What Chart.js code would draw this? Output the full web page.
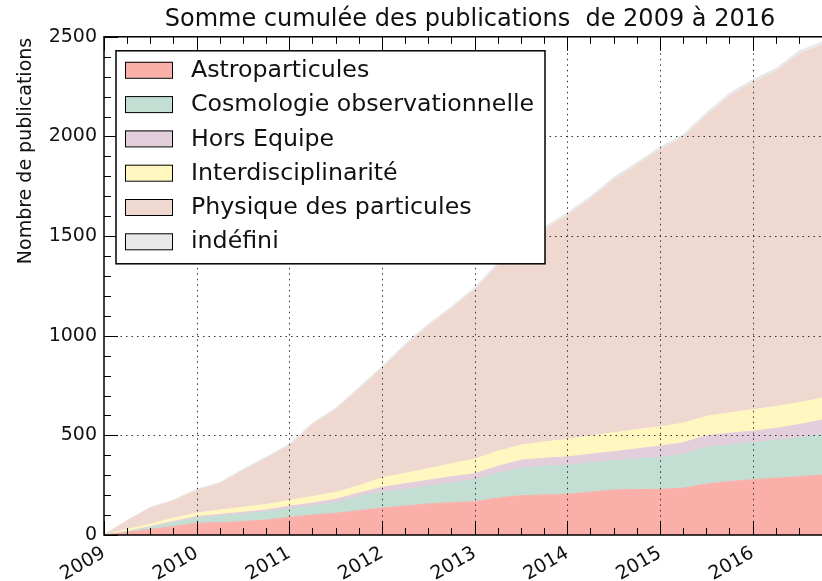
<!DOCTYPE html>
<html><head><meta charset="utf-8">
<script src="https://cdn.jsdelivr.net/npm/chart.js@4.4.1/dist/chart.umd.min.js"></script>
<style>html,body{margin:0;padding:0;background:#fff;overflow:hidden;} #wrap{width:840px;height:581px;}</style>
</head><body><div id="wrap"><canvas id="c" width="840" height="581"></canvas></div>
<script>
// Time points (decimal years, quarterly)
const periods = [2009.00,2009.25,2009.50,2009.75,2010.00,2010.25,2010.50,2010.75,2011.00,2011.25,2011.50,2011.75,
  2012.00,2012.25,2012.50,2012.75,2013.00,2013.25,2013.50,2013.75,2014.00,2014.25,2014.50,2014.75,
  2015.00,2015.25,2015.50,2015.75,2016.00,2016.25,2016.50,2016.75,2016.90];
// Cumulative publications per team
const astroparticules = [0,13,28,42,59,62,67,75,89,100,109,122,135,145,156,162,167,185,197,201,204,215,226,228,229,235,255,268,277,285,292,301,306];
const cosmologie = [0,3,10,20,25,33,38,42,42,46,54,71,80,85,90,100,109,125,138,144,147,147,147,154,161,170,185,185,186,190,196,201,202];
const horsEquipe = [0,2,4,6,8,8,9,9,13,14,16,17,24,27,29,30,31,35,40,40,41,43,45,50,56,58,58,58,58,60,66,75,77];
const interdisciplinarite = [0,10,12,17,18,22,25,27,30,33,35,37,48,53,58,66,74,75,76,82,88,92,95,97,97,98,98,102,108,110,110,110,111];
const physique = [0,43,81,86,113,132,183,230,273,360,413,482,548,637,713,776,848,932,980,1064,1122,1188,1267,1325,1389,1433,1507,1587,1640,1679,1748,1769,1778];
const indefini = [0,2,4,5,6,7,8,8,9,9,10,10,11,11,12,12,12,13,13,13,14,14,14,15,15,15,16,16,16,16,17,17,17];

const seriesNames = ['Astroparticules','Cosmologie observationnelle','Hors Equipe','Interdisciplinarité','Physique des particules','indéfini'];
const seriesValues = [astroparticules, cosmologie, horsEquipe, interdisciplinarite, physique, indefini];
const seriesColors = ['#fab0a9','#c3ded2','#e3cedb','#fff6c0','#efd8d0','#e8e8e8'];
const yTicks = [0,500,1000,1500,2000,2500];

const FONT = 'DejaVu Sans';

const datasets = seriesNames.map((name,i)=>({
  label: name,
  data: periods.map((p,j)=>({x:p, y:seriesValues[i][j]})),
  backgroundColor: seriesColors[i],
  borderColor: seriesColors[i],
  borderWidth: 1,
  pointRadius: 0,
  tension: 0,
  fill: i===0 ? 'origin' : '-1'
}));

const decor = {
  id:'decor',
  afterDatasetsDraw(chart){
    const ctx = chart.ctx, a = chart.chartArea;
    const xs = chart.scales.x, ys = chart.scales.y;
    ctx.save();
    // dotted grid
    ctx.strokeStyle = '#333'; ctx.lineWidth = 1; ctx.setLineDash([1.5,4]);
    xs.ticks.forEach(t=>{ const px = Math.round(xs.getPixelForValue(t.value))+0.5;
      if (px<=a.left+1||px>=a.right-1) return;
      ctx.beginPath(); ctx.moveTo(px,a.top); ctx.lineTo(px,a.bottom); ctx.stroke(); });
    ys.ticks.forEach(t=>{ const py = Math.round(ys.getPixelForValue(t.value))+0.5;
      if (py<=a.top+1||py>=a.bottom-1) return;
      ctx.beginPath(); ctx.moveTo(a.left,py); ctx.lineTo(a.right,py); ctx.stroke(); });
    ctx.setLineDash([]);
    // ticks (inward, major + minor)
    ctx.strokeStyle = '#000'; ctx.lineWidth = 1;
    for (let v = xs.min; v <= xs.max + 1e-6; v += 0.25) {
      const major = Math.abs(v - Math.round(v)) < 1e-6;
      const L = major ? 14 : 7;
      const px = Math.round(xs.getPixelForValue(v))+0.5;
      ctx.beginPath(); ctx.moveTo(px,a.bottom); ctx.lineTo(px,a.bottom-L);
      ctx.moveTo(px,a.top); ctx.lineTo(px,a.top+L); ctx.stroke();
    }
    for (let v = ys.min; v <= ys.max; v += 100) {
      const L = (v % 500 === 0) ? 14 : 7;
      const py = Math.round(ys.getPixelForValue(v))+0.5;
      ctx.beginPath(); ctx.moveTo(a.left,py); ctx.lineTo(a.left+L,py);
      ctx.moveTo(a.right,py); ctx.lineTo(a.right-L,py); ctx.stroke();
    }
    // frame
    ctx.lineWidth = 1.5;
    ctx.strokeRect(a.left, a.top, a.right-a.left, a.bottom-a.top);
    // y label
    ctx.fillStyle = '#111';
    ctx.font = '19px "' + FONT + '"';
    ctx.textAlign = 'center'; ctx.textBaseline = 'middle';
    ctx.translate(26, 151); ctx.rotate(-Math.PI/2);
    ctx.fillText('Nombre de publications', 0, 0);
    ctx.restore();

    // legend
    ctx.save();
    const x0 = a.left + 12, y0 = a.top + 14, w = 429, h = 213;
    ctx.fillStyle = '#fff'; ctx.fillRect(x0,y0,w,h);
    ctx.strokeStyle = '#000'; ctx.lineWidth = 1.5; ctx.strokeRect(x0,y0,w,h);
    ctx.font = '23.7px "' + FONT + '"'; ctx.textAlign='left'; ctx.textBaseline='middle';
    chart.data.datasets.forEach((ds,i)=>{
      const cy = y0 + 19 + i*34.3;
      ctx.fillStyle = ds.backgroundColor; ctx.fillRect(x0+9, cy-8, 47, 16);
      ctx.lineWidth = 1; ctx.strokeStyle='#000'; ctx.strokeRect(x0+9.5, cy-7.5, 47, 16);
      ctx.fillStyle = '#111'; ctx.fillText(ds.label, x0+75, cy+1);
    });
    ctx.restore();
  }
};

new Chart(document.getElementById('c'), {
  type:'line',
  data:{datasets},
  plugins:[decor],
  options:{
    responsive:false, animation:false,
    layout:{padding:{left:0,right:4,top:0,bottom:0}},
    plugins:{
      legend:{display:false}, tooltip:{enabled:false},
      title:{display:true, text:'Somme cumulée des publications  de 2009 à 2016', fullSize:false,
        color:'#111', font:{family:FONT, size:24, weight:'normal'}, padding:{top:5,bottom:3}}
    },
    scales:{
      x:{type:'linear', min:2009, max:2016.9,
        afterBuildTicks:(s)=>{ s.ticks = s.ticks.filter(t=>Math.abs(t.value-Math.round(t.value))<1e-6); },
        afterFit:(s)=>{ s.height = 46; },
        ticks:{stepSize:1, autoSkip:false, minRotation:30, maxRotation:30, padding:7, color:'#111',
          font:{family:FONT,size:19}, callback:(v)=>String(Math.round(v))},
        grid:{display:false, drawTicks:false}, border:{display:false}},
      y:{type:'linear', stacked:true, min:0, max:2500,
        afterBuildTicks:(s)=>{ s.ticks = yTicks.map(v=>({value:v})); },
        afterFit:(s)=>{ s.width = 104; },
        ticks:{stepSize:500, padding:7, color:'#111', font:{family:FONT,size:19}, callback:(v)=>String(v)},
        grid:{display:false, drawTicks:false}, border:{display:false}}
    }
  }
});
</script></body></html>
